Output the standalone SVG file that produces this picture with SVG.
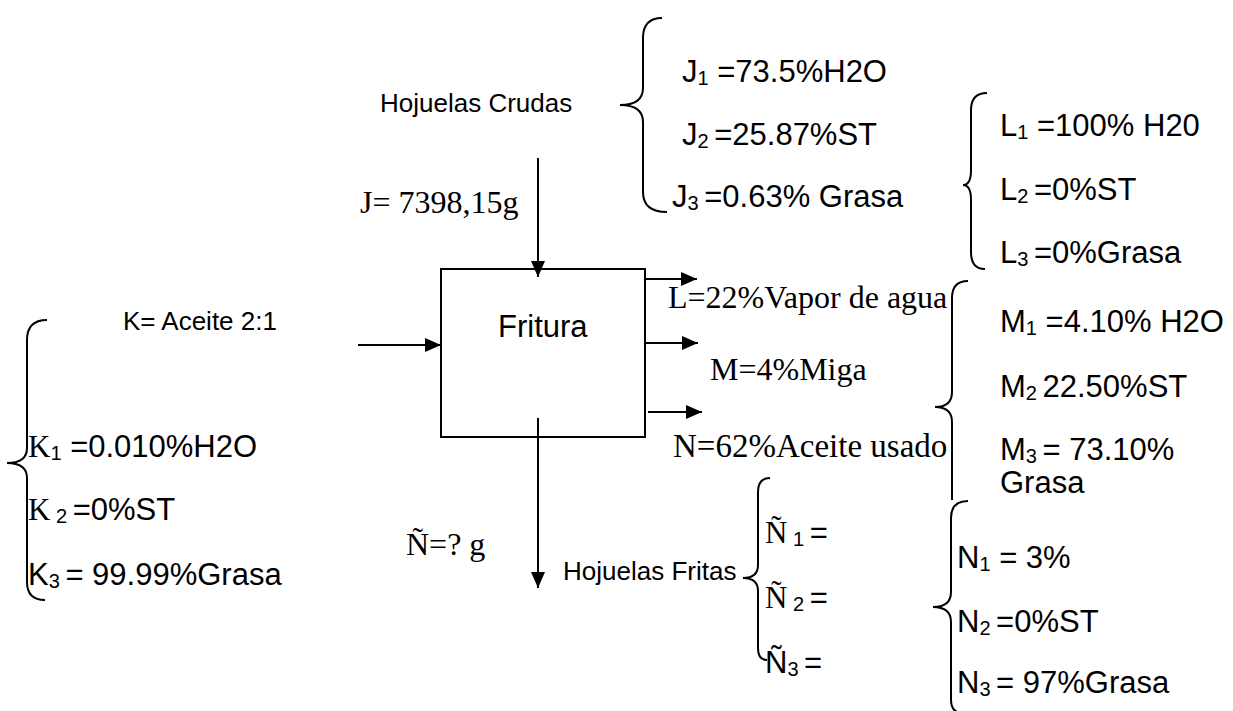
<svg xmlns="http://www.w3.org/2000/svg" width="1233" height="711" viewBox="0 0 1233 711">
<style>
.a{font-family:"Liberation Sans",Arial,sans-serif;font-size:31px;fill:#000}
.s{font-family:"Liberation Sans",Arial,sans-serif;font-size:26px;fill:#000}
.t{font-family:"Liberation Serif","Times New Roman",serif;font-size:32px;fill:#000}
.sub{font-family:"Liberation Sans",Arial,sans-serif;font-size:20px}
.tk{font-family:"Liberation Serif","Times New Roman",serif}
.br{fill:none;stroke:#000;stroke-width:2}
.ln{fill:none;stroke:#000;stroke-width:2}
</style>
<defs>
<marker id="ah" markerUnits="userSpaceOnUse" markerWidth="16" markerHeight="14" refX="16" refY="7" orient="auto">
<path d="M0,0 L16,7 L0,14 z" fill="#000"/>
</marker>
</defs>
<rect width="1233" height="711" fill="#fff"/>

<g id="connectors">
<line class="ln" x1="538" y1="158" x2="538" y2="277" marker-end="url(#ah)"/>
<line class="ln" x1="358" y1="345" x2="441" y2="345" marker-end="url(#ah)"/>
<line class="ln" x1="645" y1="279" x2="697" y2="279" marker-end="url(#ah)"/>
<line class="ln" x1="645" y1="343" x2="698" y2="343" marker-end="url(#ah)"/>
<line class="ln" x1="648" y1="412" x2="702" y2="412" marker-end="url(#ah)"/>
<line class="ln" x1="538" y1="418" x2="538" y2="588" marker-end="url(#ah)"/>
</g>

<g id="fritura">
<rect x="441" y="269" width="204" height="168" fill="none" stroke="#000" stroke-width="2"/>
<text class="a" x="498" y="337">Fritura</text>
</g>

<g id="hojuelas-crudas">
<text class="s" x="380" y="112">Hojuelas Crudas</text>
<text class="t" x="360" y="213">J= 7398,15g</text>
<path class="br" d="M662,18 Q643,18 643,38 L643,88 Q643,105 620,105 Q643,105 643,122 L643,192 Q643,212 667,212"/>
<text class="a" x="682" y="82">J<tspan class="sub" dy="3">1</tspan><tspan dy="-3"> =73.5%H2O</tspan></text>
<text class="a" x="682" y="145">J<tspan class="sub" dy="3">2 </tspan><tspan dy="-3">=25.87%ST</tspan></text>
<text class="a" x="672" y="207">J<tspan class="sub" dy="3">3 </tspan><tspan dy="-3">=0.63% Grasa</tspan></text>
</g>

<g id="vapor">
<text class="t" x="668" y="308">L=22%Vapor de agua</text>
<path class="br" d="M987,93 Q971,93 971,110 L971,170 Q971,185 963,185 Q971,185 971,200 L971,252 Q971,269 985,269"/>
<text class="a" x="1000" y="136">L<tspan class="sub" dy="3">1</tspan><tspan dy="-3"> =100% H20</tspan></text>
<text class="a" x="1000" y="200">L<tspan class="sub" dy="3">2 </tspan><tspan dy="-3">=0%ST</tspan></text>
<text class="a" x="1000" y="263">L<tspan class="sub" dy="3">3 </tspan><tspan dy="-3">=0%Grasa</tspan></text>
</g>

<g id="miga">
<text class="t" x="710" y="380">M=4%Miga</text>
<path class="br" d="M968,281 Q952,281 952,298 L952,392 Q952,407 935,407 Q952,407 952,422 L952,500"/>
<text class="a" x="1000" y="332">M<tspan class="sub" dy="3">1</tspan><tspan dy="-3"> =4.10% H2O</tspan></text>
<text class="a" x="1000" y="397">M<tspan class="sub" dy="3">2 </tspan><tspan dy="-3">22.50%ST</tspan></text>
<text class="a" x="1000" y="460">M<tspan class="sub" dy="3">3 </tspan><tspan dy="-3">= 73.10%</tspan></text>
<text class="a" x="1000" y="493">Grasa</text>
</g>

<g id="aceite-usado">
<text class="t" x="673" y="457" style="font-size:33px">N=62%Aceite usado</text>
<path class="br" d="M968,501 Q951,501 951,518 L951,592 Q951,607 933,607 Q951,607 951,622 L951,700 Q951,711 960,713"/>
<text class="a" x="957" y="568">N<tspan class="sub" dy="3">1</tspan><tspan dy="-3"> = 3%</tspan></text>
<text class="a" x="957" y="632">N<tspan class="sub" dy="3">2 </tspan><tspan dy="-3">=0%ST</tspan></text>
<text class="a" x="957" y="693">N<tspan class="sub" dy="3">3 </tspan><tspan dy="-3">= 97%Grasa</tspan></text>
</g>

<g id="aceite">
<text class="s" x="123" y="330">K= Aceite 2:1</text>
<path class="br" d="M47,320 Q27,320 27,340 L27,448 Q27,463 7,463 Q27,463 27,478 L27,582 Q27,600 45,600"/>
<text class="a" x="28" y="457"><tspan class="tk">K</tspan><tspan class="sub" dy="3">1</tspan><tspan dy="-3"> =0.010%H2O</tspan></text>
<text class="a" x="28" y="520"><tspan class="tk">K</tspan><tspan class="sub" dy="3"> 2 </tspan><tspan dy="-3">=0%ST</tspan></text>
<text class="a" x="28" y="585">K<tspan class="sub" dy="3">3 </tspan><tspan dy="-3">= 99.99%Grasa</tspan></text>
</g>

<g id="hojuelas-fritas">
<text class="t" x="406" y="555">Ñ=? g</text>
<text class="s" x="563" y="580">Hojuelas Fritas</text>
<path class="br" d="M770,478 Q758,478 758,492 L758,565 Q758,578 743,578 Q758,578 758,591 L758,648 Q758,660 767,660"/>
<text class="a" x="765" y="543"><tspan class="tk">Ñ</tspan><tspan class="sub" dy="3"> 1 </tspan><tspan dy="-3">=</tspan></text>
<text class="a" x="765" y="608"><tspan class="tk">Ñ</tspan><tspan class="sub" dy="3"> 2 </tspan><tspan dy="-3">=</tspan></text>
<text class="a" x="765" y="673">Ñ<tspan class="sub" dy="3">3 </tspan><tspan dy="-3">=</tspan></text>
</g>
</svg>
